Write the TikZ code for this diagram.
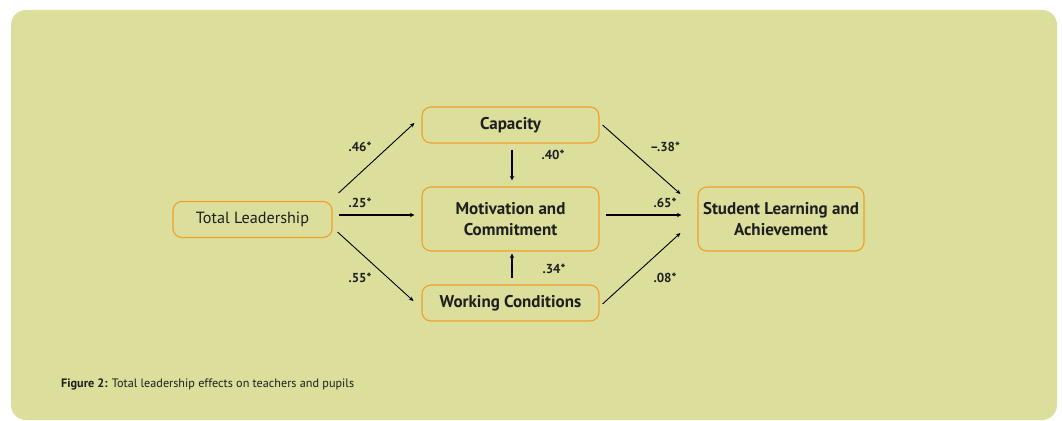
\documentclass[tikz,border=0pt]{standalone}
\usepackage{fontspec}
\setmainfont{PT Sans}
\usetikzlibrary{arrows.meta}
\definecolor{bg}{RGB}{220,223,155}
\definecolor{bord}{RGB}{240,160,40}
\definecolor{ink}{RGB}{30,30,30}
\begin{document}
\begin{tikzpicture}[x=1pt,y=-1pt,
  box/.style={draw=bord, line width=1.1pt, rounded corners=9pt, text=ink, align=center, inner sep=0pt,
    font=\fontsize{17}{20.5}\selectfont\bfseries},
  lbl/.style={text=ink, inner sep=0pt, font=\fontsize{13}{15}\selectfont\bfseries},
  thin/.style={draw=black, line width=0.9pt, -{Stealth[length=4.5pt,width=4pt]}},
  thick/.style={draw=black, line width=1.8pt, -{Stealth[length=4.5pt,width=4.5pt]}}]
\useasboundingbox (0,0) rectangle (1062,420);
\fill[bg, rounded corners=15pt] (11,10) rectangle (1057,420);

\node[box, minimum width=159pt, minimum height=36pt, font=\fontsize{16.2}{19}\selectfont] (tl) at (252.5,219.5) {Total Leadership};
\node[box, minimum width=177pt, minimum height=36pt] (cap) at (510.5,125) {Capacity};
\node[box, minimum width=177pt, minimum height=64pt] (mot) at (510.5,219) {Motivation and\\Commitment};
\node[box, minimum width=177pt, minimum height=36pt] (work) at (510.5,303) {Working Conditions};
\node[box, minimum width=166pt, minimum height=64pt] (stu) at (781,219) {Student Learning and\\Achievement};

\draw[thin] ([xshift=6pt,yshift=26.5pt]tl.east) -- ([xshift=-7pt,yshift=2pt]cap.west);
\draw[thick] ([xshift=6pt,yshift=4.5pt]tl.east) -- ([xshift=-7pt,yshift=4pt]mot.west);
\draw[thin] ([xshift=5pt,yshift=-12.5pt]tl.east) -- ([xshift=-8pt,yshift=2pt]work.west);
\draw[thick] ([xshift=1.5pt,yshift=-6pt]cap.south) -- ([xshift=1.5pt,yshift=6pt]mot.north);
\draw[thick] ([xshift=1.5pt,yshift=6pt]work.north) -- ([xshift=1.5pt,yshift=-2pt]mot.south);
\draw[thin] ([xshift=3pt]cap.east) -- ([xshift=-17pt,yshift=25pt]stu.west);
\draw[thick] ([xshift=6pt,yshift=4pt]mot.east) -- ([xshift=-16pt,yshift=4pt]stu.west);
\draw[thin] ([xshift=3pt,yshift=-1pt]work.east) -- ([xshift=-17pt,yshift=-14pt]stu.west);

\node[lbl] (l46) at (360,147) {.46*};
\node[lbl] (l25) at (360,203) {.25*};
\node[lbl] (l40) at (553,155) {.40*};
\node[lbl] (l55) at (360,278) {.55*};
\node[lbl] (l34) at (554,269) {.34*};
\node[lbl] (l38) at (665,147) {–.38*};
\node[lbl] (l65) at (665,203) {.65*};
\node[lbl] (l08) at (665,278) {.08*};

\node[anchor=base west, inner sep=0pt, text=ink, font=\fontsize{12.2}{14}\selectfont] (cap0) at (61,387)
  {\textbf{Figure 2:} Total leadership effects on teachers and pupils};
\end{tikzpicture}
\end{document}
